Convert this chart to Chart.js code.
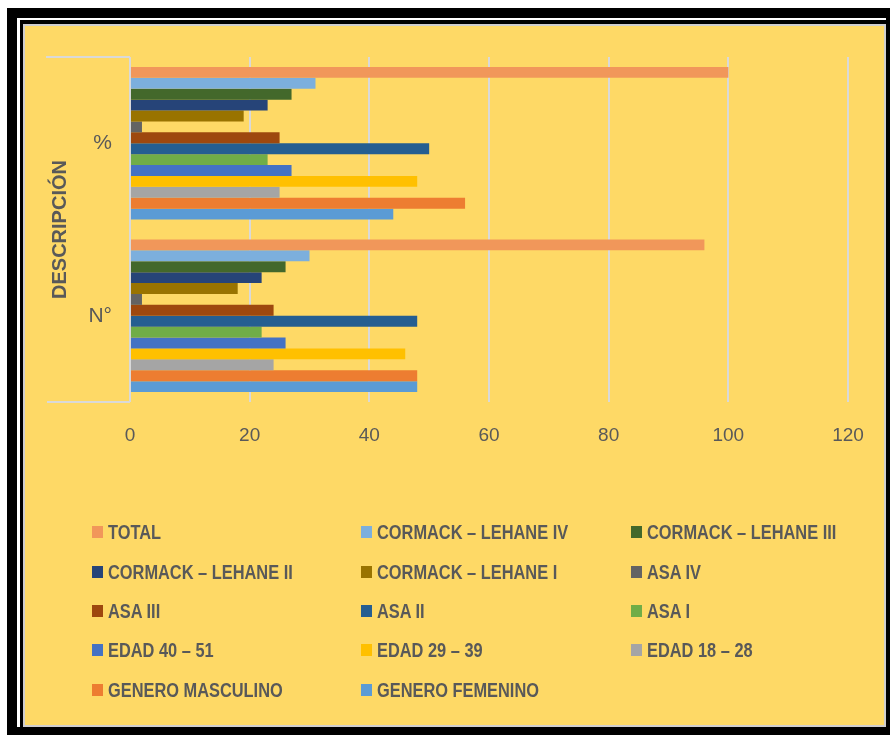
<!DOCTYPE html>
<html><head><meta charset="utf-8">
<script src="https://cdn.jsdelivr.net/npm/chart.js@4"></script>
<style>
html,body{margin:0;padding:0;background:#fff;width:891px;height:736px;overflow:hidden;}
.f{position:absolute;}
#c{position:absolute;left:0;top:0;}
.li{position:absolute;height:24px;line-height:24px;font:bold 21px 'Liberation Sans',sans-serif;color:#595959;white-space:nowrap;}
.li i{position:absolute;left:0;top:6px;width:11px;height:12px;}
.li b{position:absolute;left:16px;top:0;font-weight:bold;transform:scaleX(0.78);transform-origin:0 50%;}
</style></head>
<body>
<div class="f" style="left:7px;top:8px;width:883px;height:727px;background:#000"></div>
<div class="f" style="left:17px;top:18px;width:869px;height:709px;background:#fff"></div>
<div class="f" style="left:20px;top:20px;width:866px;height:707px;background:#000"></div>
<div class="f" style="left:23px;top:24px;width:859px;height:699px;background:#FED966;border:2px solid #D0CECE"></div>
<canvas id="c" width="891" height="736"></canvas>
<div id="legend"></div>
<script>
// ---- data ----
const categories = ['%', 'N°'];
const seriesNames = [
  'TOTAL', 'CORMACK – LEHANE IV', 'CORMACK – LEHANE III', 'CORMACK – LEHANE II',
  'CORMACK – LEHANE I', 'ASA IV', 'ASA III', 'ASA II', 'ASA I',
  'EDAD 40 – 51', 'EDAD 29 – 39', 'EDAD 18 – 28', 'GENERO MASCULINO', 'GENERO FEMENINO'
];
const percentValues = [100, 31, 27, 23, 19, 2, 25, 50, 23, 27, 48, 25, 56, 44];
const countValues   = [96, 30, 26, 22, 18, 2, 24, 48, 22, 26, 46, 24, 48, 48];
const xTicks = [0, 20, 40, 60, 80, 100, 120];
const axisTitle = 'DESCRIPCIÓN';

// ---- styles ----
const colors = ['#F1975A', '#7CAFDD', '#43682B', '#264478', '#997300', '#636363', '#9E480E',
  '#255E91', '#70AD47', '#4472C4', '#FFC000', '#A5A5A5', '#ED7D31', '#5B9BD5'];
const txt = '#595959';
const sans = "'Liberation Sans',sans-serif";

const datasets = seriesNames.map((name, i) => ({
  label: name,
  data: [percentValues[i], countValues[i]],
  backgroundColor: colors[i],
  borderWidth: 0,
  barPercentage: 1,
  categoryPercentage: 0.885
}));

const bracket = {
  id: 'bracket',
  beforeDatasetsDraw(chart) {
    const {ctx, chartArea: {left, top, bottom}} = chart;
    ctx.save();
    ctx.strokeStyle = '#D9D9D9';
    ctx.lineWidth = 2;
    ctx.beginPath();
    ctx.moveTo(left - 84, top); ctx.lineTo(left, top);
    ctx.moveTo(left - 83, bottom); ctx.lineTo(left, bottom);
    ctx.stroke();
    ctx.restore();
  }
};

const chart = new Chart(document.getElementById('c'), {
  type: 'bar',
  data: { labels: categories, datasets },
  plugins: [bracket],
  options: {
    indexAxis: 'y',
    responsive: false,
    animation: false,
    devicePixelRatio: 1,
    layout: { padding: { left: 30, top: 57, right: 43, bottom: 274 } },
    plugins: { legend: { display: false }, tooltip: { enabled: false } },
    scales: {
      x: {
        min: 0, max: 120,
        afterBuildTicks(scale) { scale.ticks = xTicks.map(v => ({ value: v })); },
        afterFit(scale) { scale.height = 60; },
        grid: { color: '#D9D9D9', lineWidth: 2, drawTicks: false },
        border: { display: false },
        ticks: { padding: 22, color: txt, font: { family: sans, size: 19 } }
      },
      y: {
        afterFit(scale) { scale.width = 100; },
        grid: { display: false, drawTicks: false },
        border: { display: false },
        ticks: { padding: 18, color: txt, font: { family: sans, size: 21 } },
        title: {
          display: true, text: axisTitle, color: txt,
          font: { family: sans, size: 20, weight: 'bold', lineHeight: 1.2 },
          padding: { top: 18, bottom: 0 }
        }
      }
    }
  }
});

// ---- HTML legend built from the chart's datasets ----
const colX = [92, 361, 631];
const rowY = [532, 572, 611, 650, 690];
const leg = document.getElementById('legend');
chart.data.datasets.forEach((ds, i) => {
  const d = document.createElement('div');
  d.className = 'li';
  d.style.left = colX[i % 3] + 'px';
  d.style.top = (rowY[Math.floor(i / 3)] - 12) + 'px';
  const box = document.createElement('i');
  box.style.background = ds.backgroundColor;
  const t = document.createElement('b');
  t.textContent = ds.label;
  d.appendChild(box); d.appendChild(t);
  leg.appendChild(d);
});
</script>
</body></html>
